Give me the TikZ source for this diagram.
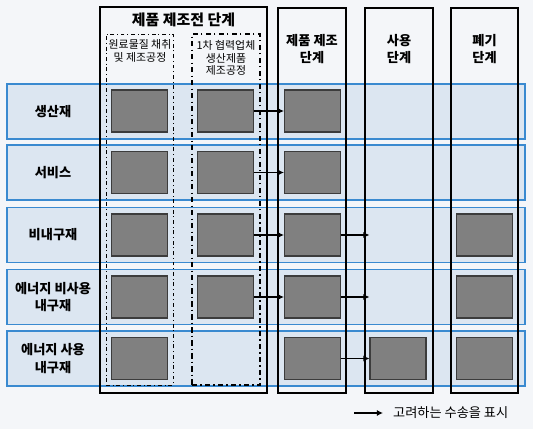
\documentclass[tikz,border=0pt]{standalone}
\usepackage{fontspec}
\setmainfont{Noto Sans CJK KR}
\usetikzlibrary{arrows.meta}

\definecolor{bgcol}{HTML}{F4F6F9}
\definecolor{rowfill}{HTML}{DCE6F1}
\definecolor{rowline}{HTML}{3A8AD0}
\definecolor{boxfill}{HTML}{808080}
\definecolor{boxline}{HTML}{3C3C3C}

\begin{document}
\begin{tikzpicture}[
    x=0.2mm, y=-0.2mm,
    rowband/.style={rectangle, draw=rowline, fill=rowfill, line width=0.9pt,
        minimum width=103.6mm, minimum height=11mm, inner sep=0pt},
    rowlabel/.style={align=center, font=\fontsize{7.5}{10}\selectfont\bfseries},
    frame/.style={rectangle, draw=black, line width=0.7pt, minimum height=77mm, inner sep=0pt},
    stagehead/.style={align=center, font=\fontsize{7.5}{10}\selectfont\bfseries},
    subhead/.style={align=center, font=\fontsize{6.2}{7.2}\selectfont},
    gbox/.style={rectangle, draw=boxline, fill=boxfill, line width=0.6pt,
        minimum width=11.2mm, minimum height=8.4mm, inner sep=0pt},
    arrow/.style={-{Latex[length=3.5pt, width=3.5pt]}, line width=0.9pt}
]

% background and size
\fill[bgcol] (0,0) rectangle (533,429);
\useasboundingbox (0,0) rectangle (533,429);

% Rows
\node[rowband] (r1) at (266, 111.5) {};
\node[rowband] (r2) at (266, 172.5) {};
\node[rowband] (r3) at (266, 235) {};
\node[rowband] (r4) at (266, 297) {};
\node[rowband] (r5) at (266, 358.5) {};

\node[rowlabel] (l1) at (53, 111.5) {생산재};
\node[rowlabel] (l2) at (53, 172.5) {서비스};
\node[rowlabel] (l3) at (53, 235) {비내구재};
\node[rowlabel] (l4) at (53, 297) {에너지 비사용\\내구재};
\node[rowlabel] (l5) at (53, 358.5) {에너지 사용\\내구재};

% Stage frames
\node[frame, minimum width=33.4mm, minimum height=77.2mm] (pre) at (183.5, 200) {};
\node[frame, minimum width=13.6mm] (make) at (312, 200.5) {};
\node[frame, minimum width=13.6mm] (use) at (399, 200.5) {};
\node[frame, minimum width=13.4mm] (waste) at (484.5, 200.5) {};

% Sub-stages inside pre-manufacturing
\node[rectangle, draw, line width=0.5pt, dash pattern=on 2.2pt off 1.6pt on 0.5pt off 1.6pt,
    minimum width=13.4mm, minimum height=70.2mm] (raw) at (139.5, 209.5) {};
\node[rectangle, draw, line width=1pt, dash pattern=on 3pt off 1.8pt on 0.8pt off 1.8pt,
    minimum width=13.6mm, minimum height=70.2mm] (supp) at (226, 209.5) {};

% Headers
\node[stagehead, font=\fontsize{8.5}{10}\selectfont\bfseries] (h_pre) at (183.5, 20) {제품 제조전 단계};
\node[subhead] (h_raw) at (140, 51) {원료물질 채취\\및 제조공정};
\node[subhead] (h_supp) at (226, 58) {1차 협력업체\\생산제품\\제조공정};
\node[stagehead] (h_make) at (312, 49) {제품 제조\\단계};
\node[stagehead] (h_use) at (399, 49) {사용\\단계};
\node[stagehead] (h_waste) at (484.5, 49) {폐기\\단계};

% Boxes per row
\node[gbox] (g11) at (139.5, 111) {};
\node[gbox] (g12) at (225.5, 111) {};
\node[gbox] (g13) at (312.5, 111) {};

\node[gbox] (g21) at (139.5, 172.5) {};
\node[gbox] (g22) at (225.5, 172.5) {};
\node[gbox] (g23) at (312.5, 172.5) {};

\node[gbox] (g31) at (139.5, 235) {};
\node[gbox] (g32) at (225.5, 235) {};
\node[gbox] (g33) at (312.5, 235) {};
\node[gbox] (g35) at (484.5, 235) {};

\node[gbox] (g41) at (139.5, 297) {};
\node[gbox] (g42) at (225.5, 297) {};
\node[gbox] (g43) at (312.5, 297) {};
\node[gbox] (g45) at (484.5, 297) {};

\node[gbox] (g51) at (139.5, 358.5) {};
\node[gbox] (g53) at (312.5, 358.5) {};
\node[gbox] (g54) at (398, 358.5) {};
\node[gbox] (g55) at (484.5, 358.5) {};

% Transport arrows
\draw[arrow] (g12) -- (g13);
\draw[arrow] (g22) -- (g23);
\draw[arrow] (g32) -- (g33);
\draw[arrow] (g42) -- (g43);
\draw[arrow] (g33.east) -- (g33.east -| g54.west);
\draw[arrow] (g43.east) -- (g43.east -| g54.west);
\draw[arrow] (g53) -- (g54);

% Legend
\coordinate (leg_a) at (354, 413);
\coordinate (leg_b) at (383, 413);
\draw[arrow] (leg_a) -- (leg_b);
\node[anchor=west, font=\fontsize{7.5}{9}\selectfont] (leg) at (387, 413) {고려하는 수송을 표시};

\end{tikzpicture}
\end{document}
